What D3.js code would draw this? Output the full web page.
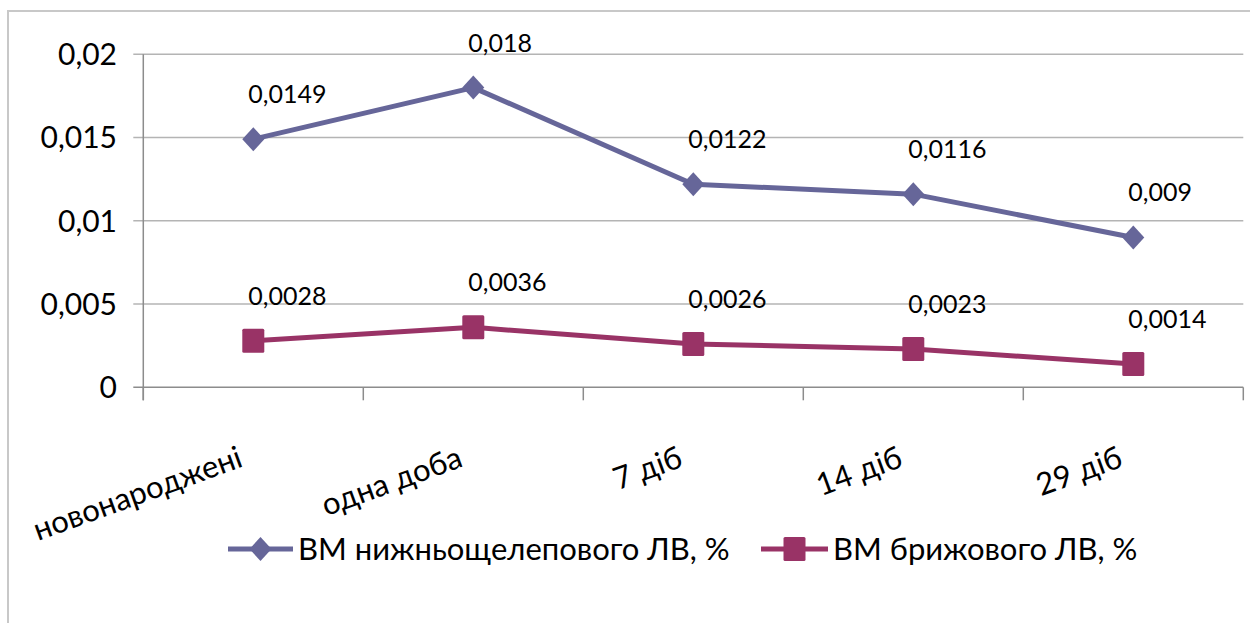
<!DOCTYPE html>
<html>
<head>
<meta charset="utf-8">
<script src="https://cdn.jsdelivr.net/npm/d3@7"></script>
<style>
  body { margin: 0; background: #fff; }
  svg { display: block; font-family: Lato, "Open Sans", sans-serif; }
</style>
</head>
<body>
<svg width="1250" height="623"></svg>
<script>
var categories = ["новонароджені", "одна доба", "7 діб", "14 діб", "29 діб"];
var lowerJaw = [0.0149, 0.018, 0.0122, 0.0116, 0.009];
var mesenteric = [0.0028, 0.0036, 0.0026, 0.0023, 0.0014];
var yTicks = [0, 0.005, 0.01, 0.015, 0.02];
var yTickLabels = ["0", "0,005", "0,01", "0,015", "0,02"];
var seriesNames = ["ВМ нижньощелепового ЛВ, %", "ВМ брижового ЛВ, %"];
var seriesColors = ["#666699", "#993366"];

var svg = d3.select("svg"),
    plotLeft = 143.3, plotRight = 1243.3, plotTop = 54.3, plotBottom = 387.3;

// chart frame
svg.append("rect")
    .attr("x", 8).attr("y", 11)
    .attr("width", 1300).attr("height", 700)
    .attr("fill", "none")
    .attr("stroke", "#c8c8c8")
    .attr("stroke-width", 2);

var x = d3.scaleBand().domain(categories).range([plotLeft, plotRight]).padding(0);
var y = d3.scaleLinear().domain([0, 0.02]).range([plotBottom, plotTop]);

// gridlines
svg.append("g")
    .selectAll("line")
    .data(yTicks)
    .enter().append("line")
      .attr("x1", plotLeft - 10).attr("x2", plotRight)
      .attr("y1", function(d) { return y(d); })
      .attr("y2", function(d) { return y(d); })
      .attr("stroke", function(d) { return d === 0 ? "#8c8c8c" : "#b4b4b4"; })
      .attr("stroke-width", 1.5);

// y axis
svg.append("line")
    .attr("x1", plotLeft).attr("x2", plotLeft)
    .attr("y1", plotTop).attr("y2", plotBottom + 13)
    .attr("stroke", "#8c8c8c").attr("stroke-width", 1.5);

svg.append("g")
    .selectAll("text")
    .data(yTicks)
    .enter().append("text")
      .attr("x", 117)
      .attr("y", function(d) { return y(d); })
      .attr("dy", "0.36em")
      .attr("text-anchor", "end")
      .attr("font-size", 30)
      .attr("fill", "#000")
      .text(function(d, i) { return yTickLabels[i]; });

// x ticks
var xTickPos = categories.map(function(c) { return x(c); }).concat([plotRight]);
svg.append("g")
    .selectAll("line")
    .data(xTickPos)
    .enter().append("line")
      .attr("x1", function(d) { return d; })
      .attr("x2", function(d) { return d; })
      .attr("y1", plotBottom).attr("y2", plotBottom + 13)
      .attr("stroke", "#8c8c8c").attr("stroke-width", 1.5);

// x labels, rotated
svg.append("g")
    .selectAll("text")
    .data(categories)
    .enter().append("text")
      .attr("transform", function(d) {
        return "translate(" + (x(d) + x.bandwidth() / 2 - 9) + ",466) rotate(-20)";
      })
      .attr("text-anchor", "end")
      .attr("font-size", 31)
      .attr("fill", "#000")
      .text(function(d) { return d; });

var line = d3.line()
    .x(function(d, i) { return x(categories[i]) + x.bandwidth() / 2; })
    .y(function(d) { return y(d); });

var series = [lowerJaw, mesenteric];

series.forEach(function(values, s) {
  svg.append("path")
      .datum(values)
      .attr("d", line)
      .attr("fill", "none")
      .attr("stroke", seriesColors[s])
      .attr("stroke-width", 5)
      .attr("stroke-linejoin", "round");

  var pts = svg.append("g").selectAll("g")
      .data(values)
      .enter().append("g")
      .attr("transform", function(d, i) {
        return "translate(" + (x(categories[i]) + x.bandwidth() / 2) + "," + y(d) + ")";
      });

  if (s === 0) {
    pts.append("path")
        .attr("d", "M0,-12L11,0L0,12L-11,0Z")
        .attr("fill", seriesColors[s]);
  } else {
    pts.append("rect")
        .attr("x", -11).attr("y", -12)
        .attr("width", 22).attr("height", 24)
        .attr("rx", 1.5)
        .attr("fill", seriesColors[s]);
  }

  pts.append("text")
      .attr("x", -5)
      .attr("y", -36)
      .attr("font-size", 25)
      .attr("fill", "#000")
      .text(function(d) { return String(d).replace(".", ","); });
});

// legend
var legendItems = [
  {x0: 228, x1: 293, tx: 298},
  {x0: 761, x1: 828, tx: 833}
];
legendItems.forEach(function(it, s) {
  var g = svg.append("g");
  var cy = 549, cx = (it.x0 + it.x1) / 2;
  g.append("line")
      .attr("x1", it.x0).attr("x2", it.x1)
      .attr("y1", cy).attr("y2", cy)
      .attr("stroke", seriesColors[s]).attr("stroke-width", 5);
  if (s === 0) {
    g.append("path")
        .attr("transform", "translate(" + cx + "," + cy + ")")
        .attr("d", "M0,-12L11,0L0,12L-11,0Z")
        .attr("fill", seriesColors[s]);
  } else {
    g.append("rect")
        .attr("x", cx - 11).attr("y", cy - 12)
        .attr("width", 22).attr("height", 24)
        .attr("rx", 1.5)
        .attr("fill", seriesColors[s]);
  }
  g.append("text")
      .attr("x", it.tx)
      .attr("y", cy)
      .attr("dy", "0.36em")
      .attr("font-size", 31)
      .attr("fill", "#000")
      .text(seriesNames[s]);
});
</script>
</body>
</html>
